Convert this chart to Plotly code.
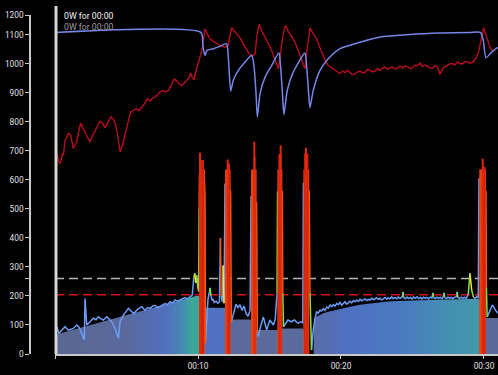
import plotly.graph_objects as go

# ------------------------------------------------------------------ data
# red series (upper, noisy)
red_t = [0.03, 0.16, 0.24, 0.35, 0.44, 0.51, 0.59, 0.70, 0.82, 0.93, 1.10, 1.19, 1.28, 1.40, 1.52,
         1.66, 1.80, 1.94, 2.10, 2.27, 2.45, 2.62, 2.80, 2.97, 3.15, 3.32, 3.50, 3.71, 3.92, 4.06,
         4.20, 4.37, 4.55, 4.72, 4.90, 5.07, 5.29, 5.50, 5.71, 5.87, 6.06, 6.26, 6.45, 6.64, 6.82,
         6.99, 7.20, 7.39, 7.53, 7.69, 7.94, 8.11, 8.34, 8.53, 8.67, 8.86, 9.02, 9.21, 9.35, 9.49,
         9.58, 9.72, 9.86, 10.02, 10.14, 10.27, 10.40, 10.49, 10.63, 10.84, 11.05, 11.31, 11.54, 11.89,
         12.12, 12.24, 12.36, 12.59, 12.94, 13.15, 13.40, 13.57, 13.75, 13.99, 14.13, 14.27, 14.48,
         14.69, 14.90, 15.15, 15.38, 15.62, 15.73, 15.91, 16.12, 16.33, 16.59, 16.82, 17.01, 17.27,
         17.48, 17.66, 17.83, 18.04, 18.30, 18.53, 18.76, 18.95, 19.11, 19.37, 19.58, 19.93, 20.10,
         20.28, 20.45, 20.63, 20.80, 20.98, 21.15, 21.33, 21.50, 21.68, 21.85, 22.03, 22.20, 22.38,
         22.55, 22.73, 22.90, 23.08, 23.25, 23.43, 23.60, 23.78, 23.95, 24.13, 24.30, 24.48, 24.65,
         24.83, 25.00, 25.17, 25.35, 25.52, 25.66, 25.87, 26.05, 26.22, 26.40, 26.57, 26.75, 26.92,
         27.13, 27.34, 27.48, 27.62, 27.80, 27.97, 28.15, 28.32, 28.50, 28.67, 28.85, 29.02, 29.25,
         29.45, 29.62, 29.81, 29.97, 30.20, 30.42, 30.66, 30.97]
red_v = [700, 685, 665, 656, 670, 690, 685, 736, 745, 761, 754, 725, 708, 720, 731,
         765, 796, 780, 766, 745, 733, 752, 771, 785, 802, 795, 780, 800, 817, 810,
         796, 760, 696, 720, 759, 790, 834, 840, 845, 838, 851, 862, 880, 872, 882,
         885, 895, 905, 908, 903, 908, 925, 948, 940, 930, 925, 935, 943, 950, 968,
         955, 945, 975, 1006, 1020, 1046, 1090, 1120, 1105, 1086, 1078, 1069, 1063, 1057,
         1063, 1100, 1124, 1110, 1089, 1070, 1046, 1035, 1025, 1034, 1100, 1136, 1112,
         1092, 1070, 1046, 1015, 983, 1018, 1090, 1132, 1110, 1092, 1070, 1046, 1010,
         983, 1060, 1124, 1105, 1086, 1055, 1029, 1005, 994, 985, 977, 966, 975,
         970, 978, 968, 962, 965, 972, 975, 968, 970, 980, 978, 972,
         975, 983, 978, 985, 990, 980, 986, 988, 982, 985, 992, 985, 992,
         990, 984, 985, 995, 994, 1002, 990, 996, 992, 985, 985, 993, 990,
         963, 985, 992, 995, 1000, 1000, 996, 1006, 1000, 1000, 1008, 1006, 1002,
         1006, 1020, 1040, 1090, 1124, 1090, 1057, 1040]

# smooth blue balance series
wbal_t = [0.0, 10.20, 10.35, 10.49, 10.63, 11.07, 11.54, 12.00, 12.12, 12.19, 12.29, 12.47, 12.82,
          13.29, 13.76, 13.92, 14.06, 14.15, 14.34, 14.69, 15.15, 15.66, 15.78, 15.92, 16.01,
          16.24, 16.66, 17.48, 17.60, 17.74, 17.83, 18.06, 18.53, 19.11, 19.93, 21.33, 22.73,
          24.83, 26.92, 29.00, 29.75, 29.95, 30.14, 30.53, 30.96]
wbal_v = [1108, 1108, 1060, 1029, 1046, 1052, 1060, 1069, 1023, 966, 906, 943, 977,
          1006, 1029, 989, 897, 817, 897, 954, 994, 1037, 989, 886, 825,
          908, 971, 1037, 989, 897, 849, 908, 977, 1017, 1052, 1074, 1092,
          1101, 1106, 1108, 1108, 1081, 1021, 1040, 1057]

# power (light line, zone coloured)
power_t = [0.03, 0.12, 0.28, 0.42, 0.58, 0.70, 0.93, 1.12, 1.28, 1.52, 1.68, 1.82, 2.05, 2.10, 2.22,
           2.45, 2.68, 2.87, 3.03, 3.22, 3.38, 3.62, 3.78, 3.97, 4.20, 4.43, 4.55, 4.78, 4.97, 5.13,
           5.36, 5.52, 5.71, 5.87, 6.06, 6.29, 6.47, 6.64, 6.82, 6.99, 7.17, 7.34, 7.52, 7.69, 7.87,
           8.04, 8.22, 8.39, 8.57, 8.74, 8.92, 9.09, 9.27, 9.44, 9.60, 9.70, 9.77, 9.84, 9.91, 9.98,
           10.05, 10.08, 10.10, 10.45, 10.49, 10.52, 10.59, 10.70, 10.80, 10.84, 10.91, 10.98, 11.05,
           11.12, 11.26, 11.40, 11.50, 11.57, 11.62, 11.70, 11.76, 11.82, 11.89, 12.28, 12.33, 12.41,
           12.52, 12.66, 12.80, 12.94, 13.08, 13.22, 13.36, 13.50, 13.64, 13.71, 14.10, 14.15, 14.22,
           14.34, 14.57, 14.80, 15.03, 15.27, 15.40, 15.53, 15.56, 15.90, 15.93, 15.98, 16.29, 16.52,
           16.75, 16.98, 17.22, 17.33, 17.37, 17.78, 17.83, 17.94, 18.06, 18.18, 18.29, 18.41, 18.53,
           18.65, 18.76, 18.88, 19.00, 19.12, 19.24, 19.36, 19.47, 19.58, 19.70, 19.82, 19.93, 20.05,
           20.16, 20.28, 20.40, 20.52, 20.63, 20.75, 20.87, 20.98, 21.10, 21.22, 21.33, 21.45, 21.56,
           21.68, 21.80, 21.91, 22.03, 22.15, 22.27, 22.38, 22.50, 22.62, 22.73, 22.85, 22.96, 23.08,
           23.20, 23.31, 23.43, 23.55, 23.66, 23.78, 23.90, 24.01, 24.13, 24.25, 24.29, 24.33, 24.38,
           24.50, 24.62, 24.73, 24.85, 24.97, 25.08, 25.20, 25.31, 25.43, 25.55, 25.66, 25.78, 25.90,
           26.01, 26.13, 26.24, 26.36, 26.42, 26.47, 26.59, 26.71, 26.82, 26.94, 27.06, 27.15, 27.20,
           27.25, 27.37, 27.48, 27.60, 27.71, 27.83, 27.95, 28.08, 28.12, 28.18, 28.29, 28.41, 28.52,
           28.64, 28.76, 28.90, 29.02, 29.14, 29.26, 29.37, 29.49, 29.60, 29.65, 30.14, 30.17, 30.22,
           30.40, 30.59, 30.80, 30.98]
power_v = [100, 94, 71, 80, 88, 94, 82, 86, 88, 100, 92, 77, 48, 191, 100,
           111, 123, 118, 128, 121, 117, 128, 120, 111, 88, 54, 111, 134, 146, 157,
           146, 140, 151, 158, 163, 151, 160, 157, 165, 168, 160, 163, 170, 174, 170,
           180, 176, 186, 182, 186, 190, 194, 190, 197, 203, 262, 278, 245, 272, 232,
           215, 505, 620, 600, 545, 37, 90, 190, 215, 228, 200, 185, 190,
           178, 182, 175, 180, 400, 200, 180, 305, 175, 587, 560, 110, 125,
           145, 172, 160, 170, 150, 165, 140, 130, 150, 545, 520, 71, 60,
           88, 128, 83, 117, 100, 120, 210, 560, 560, 210, 94, 117, 111,
           117, 106, 111, 106, 590, 560, 210, 14, 83, 120, 146, 140, 151,
           148, 157, 150, 162, 158, 169, 163, 170, 165, 174, 170, 178, 168,
           174, 180, 172, 178, 182, 176, 184, 180, 186, 181, 188, 183, 186,
           190, 184, 188, 186, 192, 187, 190, 194, 188, 192, 186, 191, 195,
           189, 193, 190, 196, 191, 194, 190, 196, 192, 197, 198, 214, 194,
           190, 196, 191, 195, 190, 196, 192, 197, 191, 195, 190, 196, 192,
           195, 190, 196, 193, 211, 194, 191, 196, 192, 195, 190, 197, 211,
           194, 191, 196, 192, 195, 190, 196, 197, 214, 194, 191, 196, 192,
           195, 191, 206, 278, 220, 196, 192, 197, 195, 605, 560, 230, 128,
           151, 169, 151, 140]

# smoothed power (filled area)
fill_t = [0.0, 9.67, 9.85, 10.08, 10.49, 11.89, 12.28, 13.71, 14.10, 15.55, 15.90, 17.37, 17.78,
          18.09, 18.11, 18.30, 18.53, 18.76, 19.11, 19.58, 20.16, 20.63, 21.33, 21.91, 22.50,
          23.08, 23.90, 24.83, 25.76, 26.70, 27.62, 28.56, 29.37, 29.67, 30.14, 30.98]
fill_v = [66, 197, 200, 200, 159, 159, 119, 119, 83, 83, 88, 88, 0,
          0, 117, 128, 134, 140, 146, 152, 158, 163, 170, 174, 178,
          180, 183, 185, 186, 187, 188, 189, 190, 190, 124, 124]

# hard efforts
spike_start = [10.08, 11.89, 13.71, 15.55, 17.37, 29.67]
spike_end = [10.49, 12.28, 14.10, 15.90, 17.78, 30.14]
spike_body = [636, 636, 636, 636, 636, 636]
spike_upper_start = [10.22, 12.05, 13.90, 15.62, 17.42, 29.85]
spike_upper_end = [10.42, 12.24, 14.02, 15.84, 17.72, 30.10]
spike_upper = [668, 656, 679, 688, 691, 645]
spike_peak_t = [10.14, 12.08, 13.94, 15.78, 17.55, 29.91]
spike_peak = [693, 670, 731, 719, 711, 673]

thresholds = [260, 204]
threshold_colors = ['#b4b4b4', '#d41414']

y_tick_vals = [0, 100, 200, 300, 400, 500, 600, 700, 800, 900, 1000, 1100]
y_top = 1168
y_top_label = '1200'
x_end = 30.98
x_tick_vals = [0, 10, 20, 30]
x_tick_text = ['', '00:10', '00:20', '00:30']
legend_lines = ['0W for 00:00', '0W for 00:00']

# ------------------------------------------------------------------ figure
W, H = 498, 375
ML, MR, MT, MB = 30, 0, 15, 21
plot_w = W - ML - MR
plot_h = H - MT - MB
FONT = 'Roboto'
FS = 8.3

fig = go.Figure()

# filled area with horizontal gradient
fig.add_trace(go.Scatter(
    x=fill_t, y=fill_v, mode='lines', line=dict(width=0), fill='tozeroy',
    fillgradient=dict(type='horizontal', start=0, stop=x_end, colorscale=[
        [0.0, '#5b6791'], [0.16, '#59699c'], [0.25, '#5070bd'], [0.285, '#4788b6'],
        [0.31, '#3aa896'], [0.325, '#3ba796'], [0.330, '#4f72c0'], [0.38, '#5070c0'],
        [0.395, '#5a6a9a'], [0.56, '#5a6a9a'], [0.575, '#5a6ba6'], [0.66, '#4f70c2'],
        [0.78, '#4a7ac0'], [0.90, '#4490b0'], [0.955, '#4298aa'], [0.97, '#5a6a98'],
        [1.0, '#5a6a98']]),
    hoverinfo='skip', showlegend=False))

# threshold dashed lines
for thr, col in zip(thresholds, threshold_colors):
    fig.add_trace(go.Scatter(x=[0, x_end], y=[thr, thr], mode='lines',
                             line=dict(color=col, width=1.6, dash='9px,5px'),
                             hoverinfo='skip', showlegend=False))

# red upper series
fig.add_trace(go.Scatter(x=red_t, y=red_v, mode='lines',
                         line=dict(color='#b80c1e', width=1.4),
                         hoverinfo='skip', showlegend=False))
# blue balance series
fig.add_trace(go.Scatter(x=wbal_t, y=wbal_v, mode='lines',
                         line=dict(color='#7586e6', width=1.5, shape='spline', smoothing=0.6),
                         hoverinfo='skip', showlegend=False))

# zone coloured power line (segment colour from its starting sample)
zones = [(330, '#f4581a'), (275, '#f2e634'), (206, '#7fe34a'), (-1e9, '#6c9df6')]


def zone_of(v):
    for lim, col in zones:
        if v >= lim:
            return col
    return zones[-1][1]


runs = {col: ([], []) for _, col in zones}
prev = None
for i in range(len(power_t) - 1):
    col = zone_of(power_v[i])
    xs, ys = runs[col]
    if col != prev:
        if xs:
            xs.append(None)
            ys.append(None)
        xs.extend([power_t[i], power_t[i + 1]])
        ys.extend([power_v[i], power_v[i + 1]])
    else:
        xs.append(power_t[i + 1])
        ys.append(power_v[i + 1])
    prev = col

for _, col in reversed(zones):
    xs, ys = runs[col]
    fig.add_trace(go.Scatter(x=xs, y=ys, mode='lines', connectgaps=False,
                             line=dict(color=col, width=1.5),
                             hoverinfo='skip', showlegend=False))


def rects(x0s, x1s, hs):
    xs, ys = [], []
    for a, b, h in zip(x0s, x1s, hs):
        xs += [a, a, b, b, a, None]
        ys += [0, h, h, 0, 0, None]
    return xs, ys


bx, by = rects(spike_start, spike_end, spike_body)
fig.add_trace(go.Scatter(x=bx, y=by, mode='lines', fill='toself', fillcolor='#e8450f',
                         line=dict(width=0), hoverinfo='skip', showlegend=False))
ux, uy = rects(spike_upper_start, spike_upper_end, spike_upper)
fig.add_trace(go.Scatter(x=ux, y=uy, mode='lines', fill='toself', fillcolor='#d2240b',
                         line=dict(width=0), hoverinfo='skip', showlegend=False))
px, py = [], []
for t, v in zip(spike_peak_t, spike_peak):
    px += [t, t, None]
    py += [0, v, None]
fig.add_trace(go.Scatter(x=px, y=py, mode='lines', line=dict(color='#e4280c', width=2),
                         hoverinfo='skip', showlegend=False))

axis_col = '#c8c8c8'
fig.update_layout(
    width=W, height=H,
    margin=dict(l=ML, r=MR, t=MT, b=MB, autoexpand=False),
    paper_bgcolor='black', plot_bgcolor='black',
    font=dict(family=FONT, size=FS, color='#e0e0e0'),
    showlegend=False,
    xaxis=dict(domain=[25 / plot_w, 1], range=[0, x_end], anchor='y',
               showline=True, linecolor=axis_col, linewidth=1.5,
               showgrid=False, zeroline=False,
               ticks='outside', ticklen=3, tickcolor=axis_col, tickwidth=1,
               tickvals=x_tick_vals, ticktext=x_tick_text,
               tickfont=dict(family=FONT, size=FS, color='#e0e0e0')),
    yaxis=dict(range=[0, y_top], anchor='free', position=0,
               showline=True, linecolor=axis_col, linewidth=1.5,
               showgrid=False, zeroline=False,
               ticks='outside', ticklen=4, tickcolor=axis_col, tickwidth=1,
               tickvals=y_tick_vals + [thresholds[0], y_top],
               ticktext=[str(v) for v in y_tick_vals] + ['', y_top_label],
               tickfont=dict(family=FONT, size=FS, color='#e0e0e0')),
)

# cursor bar at start
cx = (56 - ML) / plot_w
fig.add_shape(type='line', xref='paper', yref='paper', x0=cx, x1=cx, y0=0,
              y1=(plot_h + MT - 6) / plot_h, line=dict(color='#d6d6d6', width=3), layer='above')

# legend texts
lx = (62 - ML) / plot_w
for txt, ypix, col in zip(legend_lines, [16, 27], ['#f2f2f2', '#9c9c9c']):
    fig.add_annotation(text=txt, xref='paper', yref='paper', x=lx,
                       y=(plot_h + MT - ypix) / plot_h, xanchor='left', yanchor='middle',
                       showarrow=False, font=dict(family=FONT, size=FS + 0.4, color=col))

fig.write_html('out.html', config={'displayModeBar': False},
               post_script="document.body.style.margin='0';document.body.style.background='black';")
